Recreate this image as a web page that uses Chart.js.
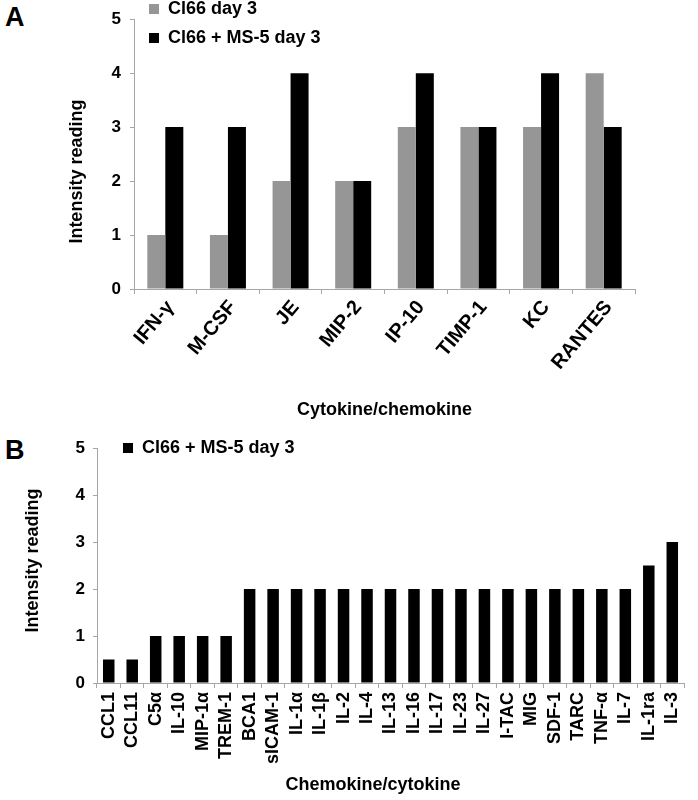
<!DOCTYPE html>
<html>
<head>
<meta charset="utf-8">
<script src="https://cdn.jsdelivr.net/npm/chart.js@4"></script>
<style>
  html, body { margin: 0; padding: 0; background: #fff; }
  #wrap { position: relative; width: 698px; height: 800px; overflow: hidden; }
  .panel { position: absolute; left: 0; }
  .letter { position: absolute; left: 5px; font-family: "Liberation Sans", Arial, sans-serif; font-weight: bold; font-size: 27px; line-height: 27px; color: #000; }
</style>
</head>
<body>
<div id="wrap">
  <div class="letter" style="top:4px;">A</div>
  <div class="letter" style="top:437px;">B</div>
  <canvas id="chartA" class="panel" style="top:0px;" width="698" height="425"></canvas>
  <canvas id="chartB" class="panel" style="top:430px;" width="698" height="370"></canvas>
</div>
<script>
// ---- Panel A data ----
const categoriesA = ["IFN-\u03B3", "M-CSF", "JE", "MIP-2", "IP-10", "TIMP-1", "KC", "RANTES"];
const cl66Day3 = [1, 1, 2, 2, 3, 3, 3, 4];
const cl66Ms5Day3A = [3, 3, 4, 2, 4, 3, 4, 3];
const seriesNamesA = ["Cl66 day 3", "Cl66 + MS-5 day 3"];

// ---- Panel B data ----
const categoriesB = ["CCL1", "CCL11", "C5\u03B1", "IL-10", "MIP-1\u03B1", "TREM-1", "BCA1", "sICAM-1",
  "IL-1\u03B1", "IL-1\u03B2", "IL-2", "IL-4", "IL-13", "IL-16", "IL-17", "IL-23", "IL-27", "I-TAC",
  "MIG", "SDF-1", "TARC", "TNF-\u03B1", "IL-7", "IL-1ra", "IL-3"];
const cl66Ms5Day3B = [0.5, 0.5, 1, 1, 1, 1, 2, 2, 2, 2, 2, 2, 2, 2, 2, 2, 2, 2, 2, 2, 2, 2, 2, 2.5, 3];
const seriesNameB = "Cl66 + MS-5 day 3";

const yTicks = [0, 1, 2, 3, 4, 5];

const FONT = "Liberation Sans";
const AXIS = "#a6a6a6";
const GRAY = "#969696";
const BLACK = "#000000";

const legendShift = {
  id: 'legendShift',
  afterLayout(chart, args, opts) {
    const l = chart.legend;
    if (!l) return;
    const dx = opts.dx || 0, dy = opts.dy || 0;
    l.left += dx; l.right += dx; l.top += dy; l.bottom += dy;
  }
};

function yScale(width, padding, title) {
  return {
    min: 0, max: 5,
    afterFit(s) { s.width = width; },
    afterBuildTicks(s) { s.ticks = yTicks.map(v => ({ value: v })); },
    border: { color: AXIS, width: 1 },
    grid: { drawOnChartArea: false, color: AXIS, tickLength: 4 },
    ticks: { color: BLACK, padding: padding, font: { family: FONT, size: 17, weight: 'bold' } },
    title: { display: true, text: title, color: BLACK, font: { family: FONT, size: 18, weight: 'bold' } }
  };
}

new Chart(document.getElementById('chartA'), {
  type: 'bar',
  data: {
    labels: categoriesA,
    datasets: [
      { label: seriesNamesA[0], data: cl66Day3, backgroundColor: GRAY, borderWidth: 0 },
      { label: seriesNamesA[1], data: cl66Ms5Day3A, backgroundColor: BLACK, borderWidth: 0 }
    ]
  },
  options: {
    responsive: false, animation: false,
    layout: { padding: { top: 13, right: 63, left: 62, bottom: 0 } },
    datasets: { bar: { categoryPercentage: 0.575, barPercentage: 1.0 } },
    scales: {
      x: {
        afterFit(s) { s.height = 136; },
        border: { color: AXIS, width: 1 },
        grid: { drawOnChartArea: false, color: AXIS, tickLength: 5, offset: true },
        ticks: { color: BLACK, minRotation: 50, maxRotation: 50, padding: 2, autoSkip: false, labelOffset: 5,
                 font: { family: FONT, size: 20, weight: 'bold' } },
        title: { display: true, text: "Cytokine/chemokine", color: BLACK, font: { family: FONT, size: 18, weight: 'bold' } }
      },
      y: yScale(72, 9, "Intensity reading\u00A0\u00A0\u00A0\u00A0\u00A0\u00A0\u00A0")
    },
    plugins: {
      legend: {
        position: 'chartArea', align: 'start',
        labels: { color: BLACK, boxWidth: 10, boxHeight: 10, padding: 11,
                  font: { family: FONT, size: 18, weight: 'bold' } }
      },
      legendShift: { dx: 4, dy: -11 },
      tooltip: { enabled: false }
    }
  },
  plugins: [legendShift]
});

new Chart(document.getElementById('chartB'), {
  type: 'bar',
  data: {
    labels: categoriesB,
    datasets: [
      { label: seriesNameB, data: cl66Ms5Day3B, backgroundColor: BLACK, borderWidth: 0 }
    ]
  },
  options: {
    responsive: false, animation: false,
    layout: { padding: { top: 13, right: 6, left: 18, bottom: 0 } },
    datasets: { bar: { categoryPercentage: 1.0, barPercentage: 0.49 } },
    scales: {
      x: {
        afterFit(s) { s.height = 117; },
        border: { color: AXIS, width: 1 },
        grid: { drawOnChartArea: false, color: AXIS, tickLength: 5, offset: true },
        ticks: { color: BLACK, minRotation: 90, maxRotation: 90, padding: 4, autoSkip: false,
                 font: { family: FONT, size: 18, weight: 'bold' } },
        title: { display: true, text: "Chemokine/cytokine\u00A0\u00A0\u00A0\u00A0\u00A0\u00A0\u00A0", color: BLACK, font: { family: FONT, size: 18, weight: 'bold' } }
      },
      y: yScale(79, 8, "\u00A0\u00A0Intensity reading")
    },
    plugins: {
      legend: {
        position: 'chartArea', align: 'start',
        labels: { color: BLACK, boxWidth: 10, boxHeight: 10, padding: 11,
                  font: { family: FONT, size: 18, weight: 'bold' } }
      },
      legendShift: { dx: 15, dy: -2 },
      tooltip: { enabled: false }
    }
  },
  plugins: [legendShift]
});
</script>
</body>
</html>
